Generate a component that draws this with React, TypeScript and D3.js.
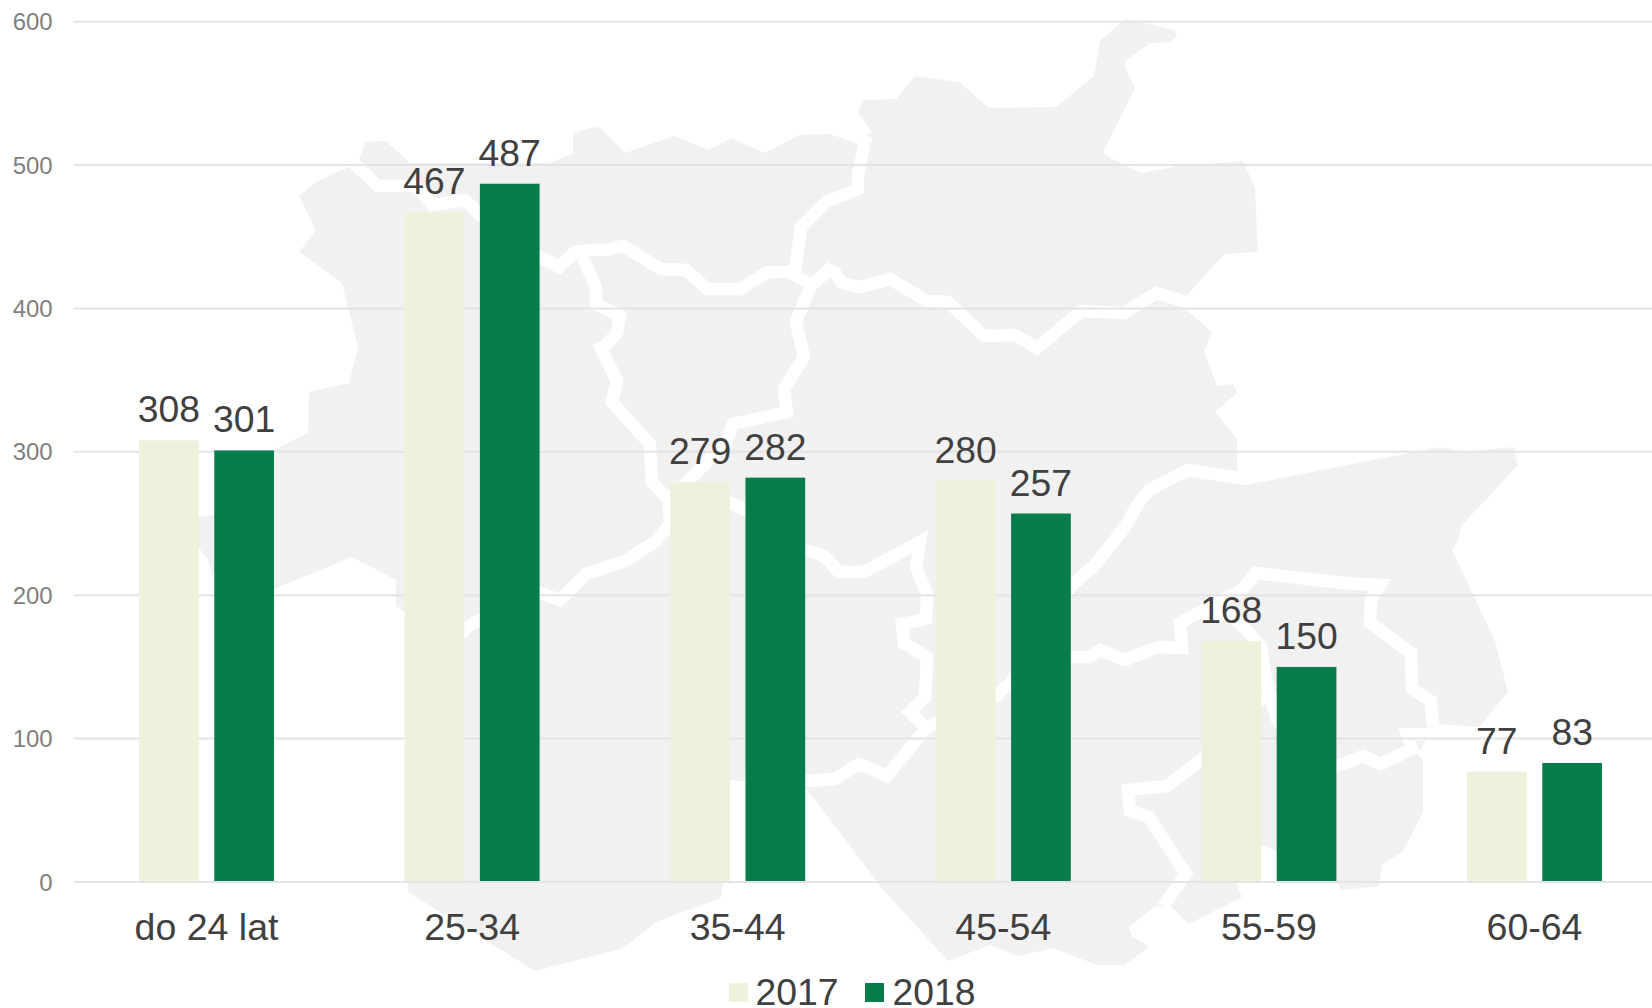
import React from "react";
import * as d3 from "d3";

const W = 1652, H = 1008;
const categories = ["do 24 lat", "25-34", "35-44", "45-54", "55-59", "60-64"];
const years = ["2017", "2018"];
const values2017 = [308, 467, 279, 280, 168, 77];
const values2018 = [301, 487, 282, 257, 150, 83];
const yTicks = [0, 100, 200, 300, 400, 500, 600];
const colors: Record<string, string> = { "2017": "#EFF1DC", "2018": "#087C4A" };

type P = [number, number];
// decorative background map: silhouette and white region borders
const mapOutline: P[] = [
  [360,158],[365,142],[386,141],[410,163],[548,163],[573,154],[573,133],[598,126],[625,153],[674,136],[709,150],[731,138],[765,153],[800,135],[830,134],[859,144],
  [866,136],[872,132],[858,112],[863,100],[896,99],[915,76],[959,82],[989,108],[1056,107],[1094,76],[1100,41],[1125,19],[1175,30],[1177,37],[1170,42],[1151,43],[1125,61],[1125,67],[1135,88],[1104,150],[1105,155],[1141,173],[1177,166],[1243,161],[1255,188],[1258,252],[1224,254],[1187,295],[1184,308],
  [1212,332],[1204,351],[1217,386],[1233,384],[1237,393],[1215,412],[1237,439],[1237,472],[1245,485],[1440,447],[1464,452],[1514,447],[1518,465],[1482,504],[1461,526],[1458,540],[1452,550],[1495,641],[1508,692],[1479,727],[1437,724],
  [1417,754],[1423,760],[1423,812],[1403,851],[1382,865],[1379,886],[1342,890],[1336,880],[1277,851],[1261,845],[1234,880],[1242,897],[1189,924],[1171,907],[1155,906],[1129,927],[1132,936],[1149,947],[1124,965],[1097,965],[1053,948],[1018,956],[990,945],[948,961],[881,887],[826,814],[805,787],[727,780],[723,882],[721,898],[656,922],[624,948],[535,971],[408,892],[405,612],[396,606],[396,580],[352,557],[274,589],[212,576],[208,559],[198,547],[190,518],[214,515],[274,450],[308,433],[309,392],[349,383],[358,347],[342,283],[299,252],[316,230],[299,196],[316,182],[348,167],
];
const mapBorders: P[][] = [
  [[345,155],[378,186],[416,186],[432,205],[465,200],[480,215],[540,257],[559,267],[575,252],[590,250],[606,250],[623,246],[661,269],[686,270],[707,289],[740,289],[768,272],[790,272],[811,285]],
  [[795,272],[801,227],[826,202],[858,189],[858,175],[866,136]],
  [[811,285],[829,270],[835,273],[842,283],[860,287],[890,279],[927,301],[948,302],[984,336],[1015,335],[1037,348],[1081,311],[1124,313],[1156,293],[1190,303]],
  [[811,285],[796,322],[804,357],[784,389],[787,412],[733,424],[726,443],[669,500]],
  [[582,257],[585,263],[596,287],[596,304],[620,316],[617,333],[606,345],[601,348],[617,381],[612,402],[650,444],[652,482],[669,500],[670,524],[656,541],[625,561],[586,574],[560,600],[540,593],[472,624],[440,650]],
  [[669,500],[730,503],[746,510],[805,550],[820,554],[826,558],[839,572],[864,572],[920,542],[916,567],[927,594],[926,619],[902,624],[904,643],[927,657],[925,697],[910,712],[926,728],[887,776],[859,764],[835,779],[805,781],[745,780]],
  [[1246,479],[1188,470],[1149,490],[1138,504],[1125,527],[1094,566],[1071,586],[1011,682],[996,696],[926,728]],
  [[1035,655],[1071,657],[1089,657],[1100,650],[1125,660],[1158,647],[1182,648],[1180,623],[1198,613],[1242,590],[1256,573],[1343,583],[1380,585],[1371,600],[1370,623],[1411,653],[1412,689],[1431,701],[1433,727]],
  [[1198,613],[1230,615],[1247,630],[1261,647],[1266,680],[1277,720],[1300,750],[1337,766],[1363,756],[1381,764],[1412,749],[1407,734],[1490,734]],
  [[1265,695],[1201,760],[1167,786],[1128,790],[1130,811],[1149,817],[1186,874],[1163,906]],
];

const x0 = d3.scaleBand<string>().domain(categories).range([73.7, 1667.3]);
const x1 = d3.scaleBand<string>().domain(years).range([65.3, 200.3]).paddingInner(0.2067);
const y = d3.scaleLinear().domain([0, 600]).range([882, 21.7]);
const seriesOf = (yr: string) => (yr === "2017" ? values2017 : values2018);
const font = "'Liberation Sans', Arial, sans-serif";
const mapLine = d3.line<P>().x((d) => d[0]).y((d) => d[1]);

export default function App() {
  return (
    <svg width={W} height={H} viewBox={`0 0 ${W} ${H}`} style={{ position: "absolute", left: 0, top: 0, background: "#fff" }} fontFamily={font}>
      <path d={mapLine(mapOutline) + "Z"} fill="#F1F1F1" />
      {mapBorders.map((b, i) => (
        <path key={i} d={mapLine(b) || ""} fill="none" stroke="#fff" strokeWidth={12.5} strokeLinejoin="miter" strokeMiterlimit={3} />
      ))}
      {yTicks.map((t) => (
        <g key={t}>
          <line x1={73.7} x2={W} y1={y(t)} y2={y(t)} stroke="#E4E4E4" strokeWidth={2} />
          <text x={52.7} y={y(t) + 8.5} textAnchor="end" fontSize={24} fill="#808080">{t}</text>
        </g>
      ))}
      {categories.map((c, i) => (
        <g key={c} transform={`translate(${x0(c)},0)`}>
          {years.map((yr) => {
            const v = seriesOf(yr)[i];
            return (
              <g key={yr}>
                <rect x={x1(yr)} y={y(v)} width={x1.bandwidth()} height={y(0) - y(v) - 1} fill={colors[yr]} />
                <text x={x1(yr)! + x1.bandwidth() / 2} y={y(v) - 18} textAnchor="middle" fontSize={37.3} fill="#404040">{v}</text>
              </g>
            );
          })}
          <text x={x0.bandwidth() / 2} y={939.5} textAnchor="middle" fontSize={37.5} fill="#404040">{c}</text>
        </g>
      ))}
      {[[729, 755.5], [865, 892.5]].map(([sx, tx], i) => (
        <g key={years[i]}>
          <rect x={sx} y={983} width={19} height={19} fill={colors[years[i]]} />
          <text x={tx} y={1004.5} fontSize={37.3} fill="#404040">{years[i]}</text>
        </g>
      ))}
    </svg>
  );
}
